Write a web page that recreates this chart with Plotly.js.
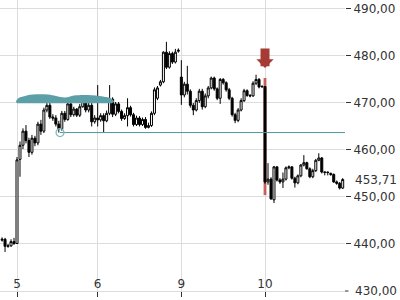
<!DOCTYPE html>
<html>
<head>
<meta charset="utf-8">
<script src="https://cdn.plot.ly/plotly-3.0.1.min.js"></script>
<style>html,body{margin:0;padding:0;background:#fff;}#chart{width:400px;height:300px;}</style>
</head>
<body>
<div id="chart"></div>
<script>
// Candle OHLC values (30-min bars), grouped by trading day
var openVals = [
  440.8, 441.0, 439.5, 439.6, 440.5,
  440.1, 458.0, 461.0, 464.0, 462.0, 459.5, 462.5, 461.5, 465.5, 464.0, 468.5, 469.5, 467.0, 466.8, 465.5, 464.5, 467.8, 466.5, 469.8, 467.5, 468.7, 467.4, 469.2, 470.3, 468.5, 469.5, 466.0,
  466.8, 466.4, 467.3, 466.2, 467.8, 470.8, 467.6, 469.8, 468.2, 466.7, 467.3, 469.0, 467.5, 465.4, 466.8, 465.4, 466.5, 464.8, 465.2, 467.8, 471.0, 473.8, 474.5, 480.8, 477.6, 480.5, 478.7, 481.0,
  475.5, 471.7, 474.0, 472.5, 469.5, 468.5, 470.5, 472.5, 469.2, 471.5, 473.2, 475.3, 473.0, 471.0, 475.0, 474.3, 472.8, 471.0, 467.5, 466.3, 468.5, 470.5, 472.6, 471.6, 471.5, 474.2, 475.0, 473.4,
  473.5, 453.2, 453.8, 449.4, 456.4, 453.6, 453.2, 453.8, 456.2, 456.4, 454.0, 453.0, 454.5, 456.8, 457.3, 456.0, 454.3, 455.6, 457.8, 458.3, 455.2, 455.3, 455.0, 454.8, 453.2, 452.9, 451.9
];
var highVals = [
  441.4, 441.3, 440.0, 441.0, 441.3,
  458.5, 461.8, 464.6, 465.3, 462.6, 463.2, 463.0, 466.0, 466.4, 469.0, 470.5, 470.0, 467.6, 467.4, 466.2, 468.3, 468.3, 470.3, 470.2, 469.2, 468.9, 469.8, 470.8, 470.6, 470.0, 470.0, 467.4,
  473.8, 467.8, 467.8, 468.4, 473.8, 471.2, 470.2, 470.2, 468.6, 467.8, 471.0, 469.4, 467.9, 467.3, 467.2, 466.9, 467.0, 465.8, 468.2, 473.3, 473.6, 474.9, 481.0, 483.0, 481.0, 480.9, 481.5, 481.6,
  479.1, 474.5, 477.9, 472.9, 470.0, 471.0, 473.0, 473.0, 472.0, 473.6, 475.6, 475.6, 473.3, 475.3, 475.3, 474.6, 473.2, 471.3, 467.9, 468.9, 471.0, 473.0, 472.9, 471.9, 474.6, 476.0, 475.3, 473.8,
  473.6, 457.2, 454.2, 456.6, 456.6, 454.0, 455.2, 456.5, 456.7, 456.6, 454.3, 454.8, 457.0, 458.9, 457.5, 456.3, 456.0, 458.1, 459.3, 458.5, 455.4, 455.4, 455.2, 455.0, 453.5, 453.2, 454.0
];
var lowVals = [
  440.5, 438.3, 439.2, 439.4, 439.8,
  440.0, 454.3, 460.2, 461.4, 458.5, 459.0, 460.8, 461.0, 463.2, 463.6, 468.0, 466.6, 466.2, 465.0, 463.7, 464.1, 466.0, 466.2, 467.0, 467.1, 467.0, 467.0, 469.0, 468.0, 468.0, 465.0, 465.6,
  465.0, 466.0, 463.8, 465.9, 467.4, 467.0, 467.2, 467.8, 466.2, 466.4, 465.0, 467.1, 465.0, 465.1, 465.0, 465.1, 464.5, 464.6, 464.9, 467.4, 470.6, 473.5, 474.2, 477.2, 477.3, 478.3, 478.4, 480.7,
  469.6, 471.2, 471.8, 469.0, 467.4, 468.2, 470.0, 468.6, 468.9, 471.0, 472.9, 472.6, 470.6, 469.8, 473.9, 472.4, 470.6, 467.1, 465.7, 465.9, 468.2, 470.2, 471.3, 471.2, 471.3, 473.8, 473.1, 473.3,
  452.8, 452.6, 449.4, 448.7, 453.3, 452.8, 451.9, 453.5, 455.9, 453.7, 452.0, 452.7, 454.2, 456.5, 455.8, 454.0, 454.0, 455.3, 457.6, 455.0, 454.6, 454.6, 454.5, 453.0, 452.6, 451.6, 451.7
];
var closeVals = [
  441.0, 439.5, 439.6, 440.5, 440.1,
  457.9, 461.0, 464.0, 462.0, 459.5, 462.5, 461.5, 465.5, 464.0, 468.5, 469.5, 467.0, 466.8, 465.5, 464.5, 467.8, 466.5, 469.8, 467.5, 468.7, 467.4, 469.2, 470.3, 468.5, 469.5, 466.0, 466.8,
  466.4, 467.3, 466.2, 467.8, 470.8, 467.6, 469.8, 468.2, 466.7, 467.3, 469.0, 467.5, 465.4, 466.8, 465.4, 466.5, 464.8, 465.2, 467.8, 472.8, 473.2, 474.5, 480.8, 477.6, 480.5, 478.7, 480.8, 481.2,
  471.7, 474.0, 472.5, 469.5, 468.5, 470.5, 472.5, 469.2, 471.5, 473.2, 475.3, 473.0, 471.0, 475.0, 474.3, 472.8, 471.0, 467.5, 466.3, 468.5, 470.5, 472.6, 471.6, 471.5, 474.2, 475.0, 473.4, 473.5,
  453.2, 453.8, 449.6, 456.4, 453.6, 453.2, 453.8, 456.2, 456.4, 454.0, 453.0, 454.5, 456.8, 457.3, 456.0, 454.3, 455.6, 457.8, 458.3, 455.3, 455.3, 455.2, 454.8, 453.2, 452.9, 451.9, 453.71
];
var firstIndex = -5;                 // bar position of first candle (previous day)
var dayTickPos = [0, 27, 55, 83];     // bar position of each day's first candle
var dayTickText = ['5', '6', '9', '10'];
var priceTicks = [430, 440, 450, 460, 470, 480, 490];
var lastPrice = 453.71;

// highlighted gap candle
var gapPos = [83];
var gapTop = [475.3];
var gapBottom = [450.4];

// support level line with its anchor circle
var supportX = [14.4, 109.8];
var supportY = [463.7, 463.7];

// teal resistance "cloud" outline
var cloudX = [0, -0.33, 0.33, 2.0, 5.35, 10.37, 13.05, 16.06, 19.08, 23.76, 28.78, 31.46, 32.46, 31.8];
var cloudY = [469.94, 470.32, 470.96, 471.38, 471.81, 471.81, 471.49, 471.17, 471.6, 471.7, 471.38, 470.96, 470.32, 469.94];

var xPos = openVals.map(function (_, k) { return firstIndex + k; });
var gapHeight = gapTop.map(function (t, k) { return t - gapBottom[k]; });
function fmt(v) { return v.toFixed(2).replace('.', ','); }
var priceTickText = priceTicks.map(fmt);
var yRange = [430, 491.9];

var traces = [
  {
    type: 'scatter', x: cloudX, y: cloudY, mode: 'lines', fill: 'toself',
    line: {shape: 'spline', width: 0, color: '#5c9fa6'}, fillcolor: '#5c9fa6',
    hoverinfo: 'skip', showlegend: false
  },
  {
    type: 'bar', x: gapPos, y: gapHeight, base: gapBottom, width: 0.95,
    marker: {color: 'rgba(190,70,62,0.85)', line: {width: 0}},
    hoverinfo: 'skip', showlegend: false
  },
  {
    type: 'scatter', x: supportX, y: supportY, mode: 'lines',
    line: {color: '#4f9596', width: 1}, hoverinfo: 'skip', showlegend: false
  },
  {
    type: 'scatter', x: [supportX[0]], y: [supportY[0]], mode: 'markers',
    marker: {symbol: 'circle-open', size: 8, color: '#7db6ba', line: {width: 1.2}},
    hoverinfo: 'skip', showlegend: false
  },
  {
    type: 'candlestick', x: xPos, open: openVals, high: highVals, low: lowVals, close: closeVals,
    increasing: {line: {color: '#000', width: 1}, fillcolor: '#ffffff'},
    decreasing: {line: {color: '#000', width: 1}, fillcolor: '#000000'},
    whiskerwidth: 0, hoverinfo: 'skip', showlegend: false
  }
];

var tickFont = {family: 'DejaVu Sans, sans-serif', size: 12, color: '#333'};

var layout = {
  width: 400, height: 300,
  margin: {l: 0, r: 55, t: 0, b: 9, pad: 0},
  paper_bgcolor: '#ffffff', plot_bgcolor: '#ffffff',
  showlegend: false,
  boxgap: 0.05,
  font: tickFont,
  xaxis: {
    type: 'linear', range: [-5.69, 109.77],
    tickmode: 'array', tickvals: dayTickPos, ticktext: dayTickText,
    ticks: 'outside', ticklen: 5, tickcolor: '#333', tickwidth: 1,
    ticklabelposition: 'inside',
    showgrid: true, gridcolor: '#dcdcdc', gridwidth: 1,
    showline: true, linecolor: '#dcdcdc', linewidth: 1,
    zeroline: false, rangeslider: {visible: false}, fixedrange: true,
    tickfont: tickFont
  },
  yaxis: {
    side: 'right', range: yRange,
    tickmode: 'array', tickvals: priceTicks, ticktext: priceTickText,
    ticks: 'outside', ticklen: 5, tickcolor: '#333', tickwidth: 1,
    showgrid: true, gridcolor: '#dcdcdc', gridwidth: 1,
    zeroline: false, showline: false, fixedrange: true,
    tickfont: tickFont
  },
  annotations: [
    {
      x: gapPos[0], y: 477.45, xref: 'x', yref: 'y', text: '',
      showarrow: true, ax: 0, ay: -21, arrowhead: 1, arrowsize: 0.32,
      arrowwidth: 9, arrowcolor: '#a63a35'
    },
    {
      x: 1, y: lastPrice, xref: 'paper', yref: 'y', xanchor: 'left', xshift: 8,
      text: fmt(lastPrice), showarrow: false, font: tickFont
    },
    // bottom price tick (hidden by Plotly at the axis corner) drawn explicitly
    {
      x: 1, y: priceTicks[0], xref: 'paper', yref: 'y', xanchor: 'left', xshift: 8,
      text: priceTickText[0], showarrow: false, font: tickFont
    },
    {
      x: 1, y: priceTicks[0], xref: 'paper', yref: 'y', text: '',
      showarrow: true, ax: 5, ay: 0, arrowhead: 0, arrowwidth: 1, arrowcolor: '#333',
      standoff: 0, startstandoff: 0
    }
  ]
};

Plotly.newPlot('chart', traces, layout, {displayModeBar: false, staticPlot: true});
</script>
</body>
</html>
